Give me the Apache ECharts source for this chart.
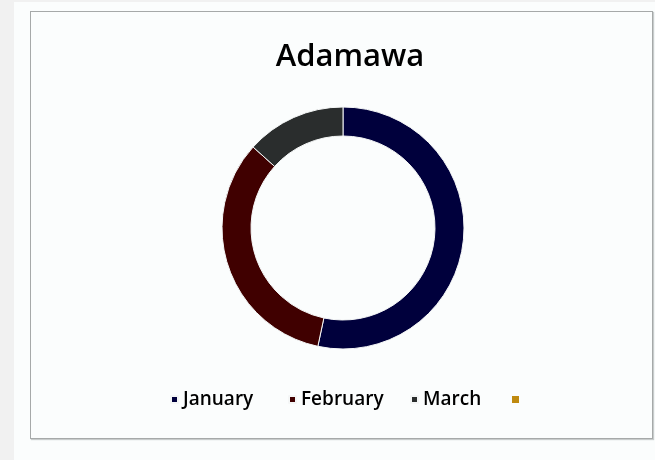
<!DOCTYPE html>
<html>
<head>
<meta charset="utf-8">
<script src="https://cdn.jsdelivr.net/npm/echarts@6/dist/echarts.min.js"></script>
<style>
    html, body {
        margin: 0;
        padding: 0;
        width: 655px;
        height: 460px;
        background: #f1f1f1;
        overflow: hidden;
    }
    .card {
        position: absolute;
        left: 14px;
        top: 2px;
        width: 641px;
        height: 458px;
        background: #fbfdfd;
    }
    .frame {
        position: absolute;
        left: 30px;
        top: 11px;
        width: 621px;
        height: 426px;
        border: 1.5px solid #a6a9a9;
        box-shadow: 1px 1px 1px #c8cccc;
        background: #fbfdfd;
    }
    #chart {
        position: absolute;
        left: 0;
        top: 0;
        width: 655px;
        height: 460px;
    }
</style>
</head>
<body>
<div class="card"></div>
<div class="frame"></div>
<div id="chart"></div>
<script>
// Data
const months = ['January', 'February', 'March', ' ']
const counts = [8, 5, 2, 0]
const colors = ['#00003c', '#400000', '#2a2d2d', '#bf8a10']

// legend marker x positions
const legendLeft = [170, 288, 410, 512]

const chart = echarts.init(document.getElementById('chart'), null, { renderer: 'canvas' })

const option = {
    backgroundColor: 'transparent',
    color: colors,
    title: {
        text: 'Adamawa',
        left: 345,
        textAlign: 'center',
        top: 37,
        textStyle: {
            fontFamily: 'Open Sans',
            fontSize: 31,
            fontWeight: 600,
            color: '#000'
        }
    },
    legend: months.map((m, i) => ({
        data: [m],
        left: legendLeft[i],
        top: 390,
        padding: 0,
        icon: 'rect',
        itemWidth: 7,
        itemHeight: 7,
        selectedMode: false,
        textStyle: {
            fontFamily: 'Open Sans',
            fontSize: 19,
            fontWeight: 600,
            color: '#000'
        }
    })),
    series: [
        {
            type: 'pie',
            center: [343, 228],
            radius: [92, 121],
            startAngle: 90,
            clockwise: true,
            label: { show: false },
            labelLine: { show: false },
            silent: true,
            itemStyle: {
                borderColor: '#f4f6f6',
                borderWidth: 1
            },
            data: months.map((m, i) => ({
                name: m,
                value: counts[i],
                itemStyle: counts[i] === 0 ? { borderWidth: 0 } : undefined
            }))
        }
    ]
}

chart.setOption(option)
</script>
</body>
</html>
